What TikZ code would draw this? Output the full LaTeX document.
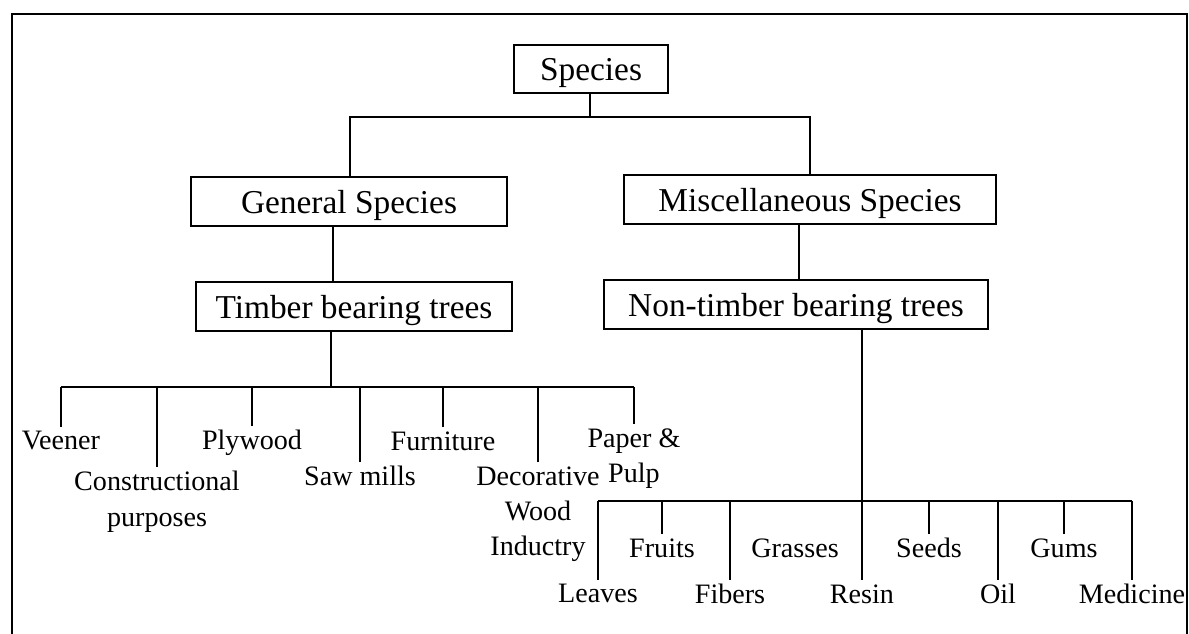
\documentclass[tikz,border=0pt]{standalone}
\usepackage{fontspec}
\setmainfont{Liberation Serif}
\begin{document}
\begin{tikzpicture}[x=0.02cm,y=-0.02cm,line width=1pt,
  box/.style={draw,minimum height=0.97cm,inner sep=2pt,text depth=0pt,font=\fontsize{19}{23}\selectfont},
  leaf/.style={anchor=north,inner sep=2pt,align=center,font=\fontsize{16}{20}\selectfont}]
\useasboundingbox (0,0) rectangle (1189,634);
\draw (12,650) -- (12,14) -- (1187,14) -- (1187,650);
% boxes
\node[box,minimum width=3.08cm] (sp) at (591,69) {Species};
\node[box,minimum width=6.32cm] (gs) at (349,201.5) {General Species};
\node[box,minimum width=7.44cm] (ms) at (810,199.5) {Miscellaneous Species};
\node[box,minimum width=6.32cm] (tb) at (354,306.5) {Timber bearing trees};
\node[box,minimum width=7.68cm] (nt) at (796,304.5) {Non-timber bearing trees};
\coordinate (sj) at (590,117);
\coordinate (gj) at (350,117);
\coordinate (mj) at (810,117);
\coordinate (gt) at (333,250);
\coordinate (mn) at (799,250);
\draw (sp.south -| sj) -- (sj);
\draw (gs.north -| gj) -- (gj) -- (mj) -- (ms.north -| mj);
\draw (gs.south -| gt) -- (tb.north -| gt);
\draw (ms.south -| mn) -- (nt.north -| mn);
% timber uses
\node[leaf] (vn) at (61,427) {Veener};
\node[leaf] (cp) at (157,467) {Constructional\\purposes};
\node[leaf] (pw) at (252,426) {Plywood};
\node[leaf] (sm) at (360,462) {Saw mills};
\node[leaf] (fu) at (443,427) {Furniture};
\node[leaf] (dw) at (538,462) {Decorative\\Wood\\Inductry};
\node[leaf] (pp) at (634,424) {Paper \&\\Pulp};
\coordinate (tj) at (331,387);
\draw (tb.south -| tj) -- (tj);
\draw (vn.north |- tj) -- (pp.north |- tj);
\foreach \n in {vn,cp,pw,sm,fu,dw,pp}
  \draw (\n.north) -- (\n.north |- tj);
% non-timber uses
\node[leaf] (fr) at (662,534) {Fruits};
\node[leaf] (gr) at (795,534) {Grasses};
\node[leaf] (sd) at (929,534) {Seeds};
\node[leaf] (gm) at (1064,534) {Gums};
\node[leaf] (lv) at (598,580) {Leaves};
\node[leaf] (fb) at (730,580) {Fibers};
\node[leaf] (rs) at (862,580) {Resin};
\node[leaf] (ol) at (998,580) {Oil};
\node[leaf] (md) at (1132,580) {Medicine};
\coordinate (nj) at (862,501);
\draw (nt.south -| nj) -- (rs.north);
\draw (lv.north |- nj) -- (md.north |- nj);
\foreach \n in {lv,fr,fb,sd,ol,gm,md}
  \draw (\n.north) -- (\n.north |- nj);
\end{tikzpicture}
\end{document}
